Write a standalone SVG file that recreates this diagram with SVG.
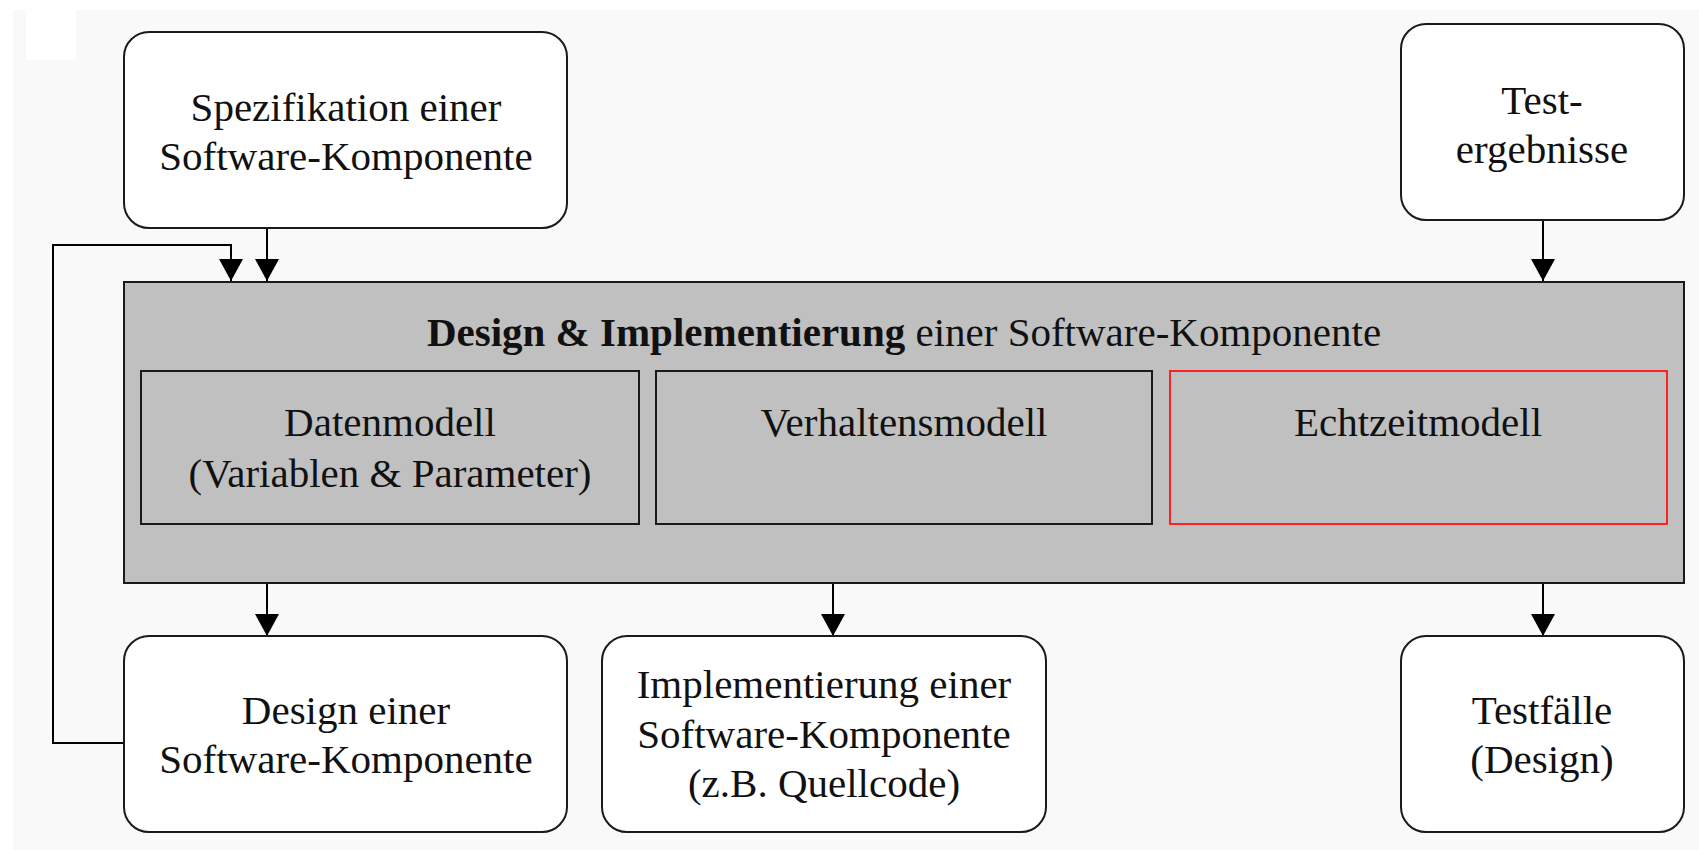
<svg xmlns="http://www.w3.org/2000/svg" width="1699" height="850" viewBox="0 0 1699 850">
  <style>
    .txt { font-family: "Liberation Serif", "Times New Roman", serif; font-size: 41px; fill: #111; text-anchor: middle; }
    .bold { font-weight: bold; }
    .rounded { fill: #ffffff; stroke: #1a1a1a; stroke-width: 2; }
    .panel { fill: #c0c0c0; stroke: #1a1a1a; stroke-width: 2; }
    .sub { fill: none; stroke: #1a1a1a; stroke-width: 2; }
    .sub-red { fill: none; stroke: #ff2020; stroke-width: 2; }
    .conn { fill: none; stroke: #000; stroke-width: 2; }
  </style>
  <defs>
    <marker id="arrow" markerUnits="userSpaceOnUse" markerWidth="24" markerHeight="26" viewBox="0 -13 22 26" refX="22" refY="0" orient="auto">
      <path d="M0,-12 L22,0 L0,12 z" fill="#000"/>
    </marker>
  </defs>

  <!-- page -->
  <rect x="0" y="0" width="1699" height="850" fill="#ffffff"/>
  <rect x="13" y="10" width="1686" height="840" fill="#f9f9f9"/>
  <rect x="26" y="10" width="50" height="50" fill="#ffffff"/>

  <!-- connectors -->
  <g id="connectors">
    <path class="conn" d="M267,228 V281" marker-end="url(#arrow)"/>
    <path class="conn" d="M124,743 H53 V245 H231 V281" marker-end="url(#arrow)"/>
    <path class="conn" d="M1543,220 V281" marker-end="url(#arrow)"/>
    <path class="conn" d="M267,584 V636" marker-end="url(#arrow)"/>
    <path class="conn" d="M833,584 V636" marker-end="url(#arrow)"/>
    <path class="conn" d="M1543,584 V636" marker-end="url(#arrow)"/>
  </g>

  <g id="spezifikation">
    <rect class="rounded" x="124" y="32" width="443" height="196" rx="25" ry="25"/>
    <text class="txt" x="346" y="121">Spezifikation einer</text>
    <text class="txt" x="346" y="170">Software-Komponente</text>
  </g>

  <g id="testergebnisse">
    <rect class="rounded" x="1401" y="24" width="283" height="196" rx="25" ry="25"/>
    <text class="txt" x="1542" y="114">Test-</text>
    <text class="txt" x="1542" y="163">ergebnisse</text>
  </g>

  <g id="design-implementierung">
    <rect class="panel" x="124" y="282" width="1560" height="301"/>
    <text class="txt" x="904" y="346"><tspan class="bold">Design &amp; Implementierung</tspan> einer Software-Komponente</text>
  </g>

  <g id="datenmodell">
    <rect class="sub" x="141" y="371" width="498" height="153"/>
    <text class="txt" x="390" y="436">Datenmodell</text>
    <text class="txt" x="390" y="487">(Variablen &amp; Parameter)</text>
  </g>

  <g id="verhaltensmodell">
    <rect class="sub" x="656" y="371" width="496" height="153"/>
    <text class="txt" x="904" y="436">Verhaltensmodell</text>
  </g>

  <g id="echtzeitmodell">
    <rect class="sub-red" x="1170" y="371" width="497" height="153"/>
    <text class="txt" x="1418" y="436">Echtzeitmodell</text>
  </g>

  <g id="design">
    <rect class="rounded" x="124" y="636" width="443" height="196" rx="25" ry="25"/>
    <text class="txt" x="346" y="724">Design einer</text>
    <text class="txt" x="346" y="773">Software-Komponente</text>
  </g>

  <g id="implementierung">
    <rect class="rounded" x="602" y="636" width="444" height="196" rx="25" ry="25"/>
    <text class="txt" x="824" y="698">Implementierung einer</text>
    <text class="txt" x="824" y="748">Software-Komponente</text>
    <text class="txt" x="824" y="797">(z.B. Quellcode)</text>
  </g>

  <g id="testfaelle">
    <rect class="rounded" x="1401" y="636" width="283" height="196" rx="25" ry="25"/>
    <text class="txt" x="1542" y="724">Testfälle</text>
    <text class="txt" x="1542" y="773">(Design)</text>
  </g>
</svg>
